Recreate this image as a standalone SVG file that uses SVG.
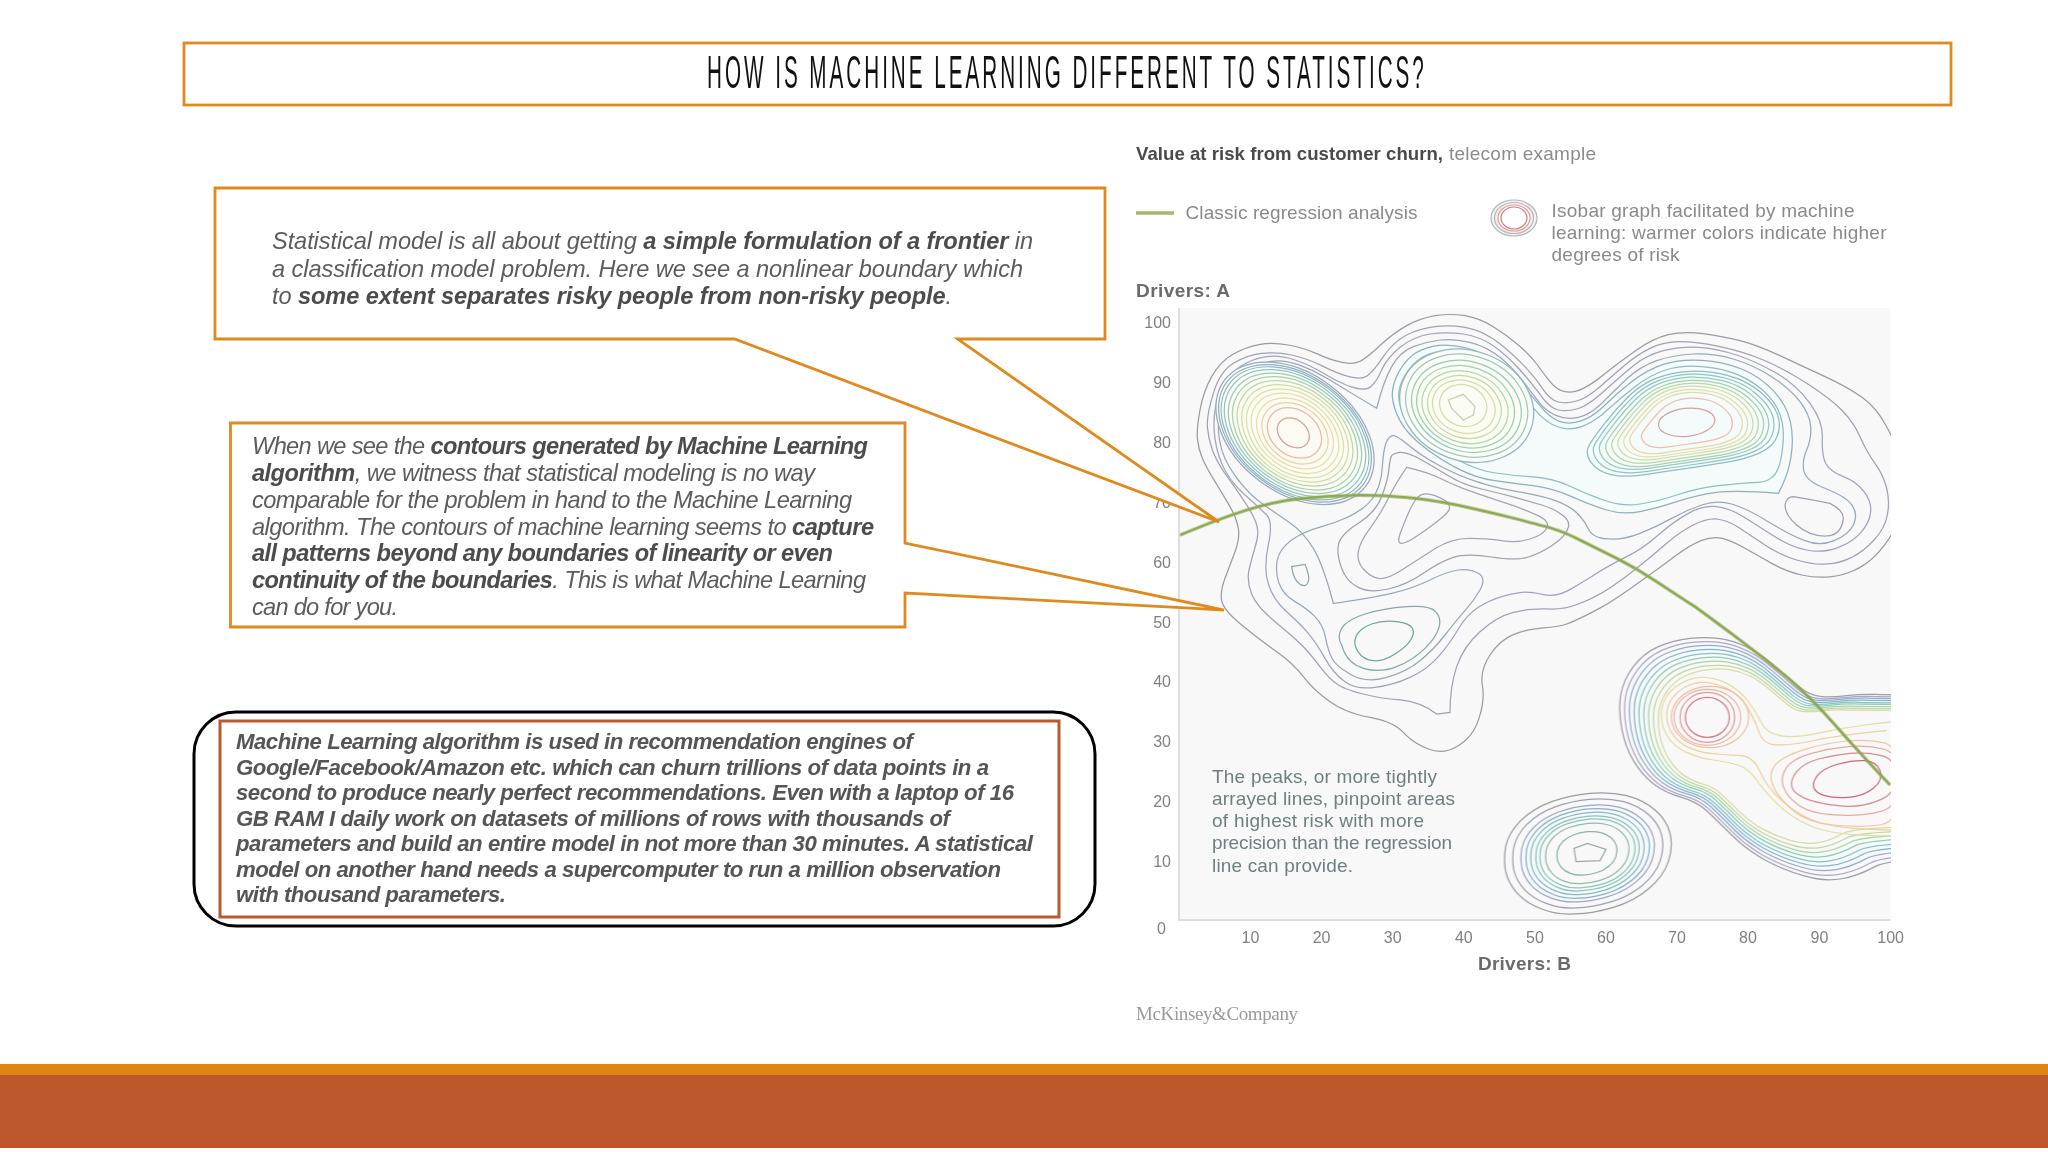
<svg xmlns="http://www.w3.org/2000/svg" width="2048" height="1152" viewBox="0 0 2048 1152">
<style>
text{font-family:"Liberation Sans",Arial,sans-serif}
.c,.e ellipse,.e path{vector-effect:non-scaling-stroke;stroke-width:1.25}
.box{fill:#fff;stroke:#e08a1e;stroke-width:2.8}
.t{font-size:23.6px;font-style:italic;fill:#5c5c5c}
.t tspan{font-weight:bold;fill:#4c4c4c}
.t3{font-size:22.2px;font-style:italic;font-weight:bold;fill:#555}
.tick{font-size:16px;fill:#808080}
.ax{font-size:19px;font-weight:bold;fill:#6a6a6a}
.leg{font-size:19px;fill:#8a8a8a}
.note{font-size:19px;fill:#6f7f80}
</style>
<defs>
<clipPath id="plotClip"><rect x="1179" y="308" width="711.5" height="612"/></clipPath>
<filter id="soft" x="1170" y="300" width="730" height="630" filterUnits="userSpaceOnUse"><feGaussianBlur stdDeviation="0.45"/></filter>
<path id="dumbbell" class="c" d="M1536,225 Q1172,225 1126,223 Q1080,222 1040,227 Q1000,232 965,230 Q930,228 895,199 Q860,170 820,135 Q780,100 740,81 Q700,62 660,56 Q620,50 570,55 Q520,60 475,80 Q430,100 400,140 Q370,180 362,225 Q355,270 365,325 Q375,380 402,425 Q430,470 465,495 Q500,520 545,532 Q590,545 620,572 Q650,600 695,645 Q740,690 795,720 Q850,750 910,767 Q970,785 1020,777 Q1070,770 1125,740 Q1180,710 1540,710 L1900,710 L1900,225 Z"/>
<path id="smallpeak" class="c" d="M17,755 Q10,720 17,680 Q25,640 62,602 Q100,565 155,545 Q210,525 270,520 Q330,515 380,527 Q430,540 465,570 Q500,600 510,640 Q520,680 505,725 Q490,770 445,807 Q400,845 340,862 Q280,880 225,882 Q170,885 125,867 Q80,850 52,820 Q25,790 17,755Z"/>
<path id="cblob" class="c" d="M1210,480 Q1190,450 1205,425 Q1220,400 1255,355 Q1290,310 1330,270 Q1370,230 1420,210 Q1470,190 1530,187 Q1590,185 1650,200 Q1710,215 1755,252 Q1800,290 1812,325 Q1825,360 1812,395 Q1800,430 1755,450 Q1710,470 1650,480 Q1590,490 1520,500 Q1450,510 1385,520 Q1320,530 1275,520 Q1230,510 1210,480Z"/>
</defs>
<rect width="2048" height="1152" fill="#fff"/>
<g id="chart">
<rect x="1179" y="308" width="711.5" height="612" fill="#f8f8f9"/>
<path d="M1179,308V920H1890.5" fill="none" stroke="#dedede" stroke-width="2"/>
<g clip-path="url(#plotClip)" filter="url(#soft)"><g transform="translate(1180 305) scale(.33333)" fill="none" class="e">
<path class="c" stroke="#9b9ba3" d="M52,400 Q50,370 60,315 Q70,260 95,215 Q120,170 160,147 Q200,125 240,118 Q280,112 325,120 Q370,128 410,146 Q450,165 487,172 Q525,180 547,165 Q570,150 605,117 Q640,85 680,62 Q720,40 765,32 Q810,25 855,32 Q900,40 940,65 Q980,90 1015,120 Q1050,150 1070,177 Q1090,205 1110,230 Q1130,255 1155,260 Q1180,265 1210,250 Q1240,235 1280,202 Q1320,170 1370,135 Q1420,100 1465,89 Q1510,78 1570,86 Q1630,95 1680,107 Q1730,120 1800,152 Q1870,185 1940,217 Q2010,250 2050,280 Q2090,310 2117,360 Q2145,410 2172,480 Q2200,550 2172,615 Q2145,680 2112,722 Q2080,765 2040,787 Q2000,810 1955,815 Q1910,820 1865,810 Q1820,800 1775,775 Q1730,750 1695,730 Q1660,710 1630,701 Q1600,693 1565,706 Q1530,720 1490,750 Q1450,780 1405,812 Q1360,845 1320,872 Q1280,900 1230,925 Q1180,950 1160,957 Q1140,965 1090,969 Q1040,973 1000,989 Q960,1005 930,1050 Q900,1095 907,1140 Q915,1185 897,1240 Q880,1295 835,1322 Q790,1350 745,1332 Q700,1315 670,1282 Q640,1250 570,1237 Q500,1225 450,1190 Q400,1155 370,1115 Q340,1075 290,1040 Q240,1005 185,960 Q130,915 125,887 Q120,860 135,820 Q150,780 165,740 Q180,700 175,670 Q170,640 150,605 Q130,570 105,530 Q80,490 67,460 Q55,430 52,400 Z"/>
<path class="c" stroke="#a3a0b2" d="M82,365 Q80,330 100,265 Q120,200 160,175 Q200,150 245,145 Q290,140 335,150 Q380,160 425,182 Q470,205 507,215 Q545,225 562,212 Q580,200 610,155 Q640,110 680,90 Q720,70 765,65 Q810,60 855,67 Q900,75 940,102 Q980,130 1020,170 Q1060,210 1085,247 Q1110,285 1135,291 Q1160,297 1190,288 Q1220,280 1260,245 Q1300,210 1335,180 Q1370,150 1410,130 Q1450,110 1500,110 Q1550,110 1620,125 Q1690,140 1750,165 Q1810,190 1880,235 Q1950,280 1985,315 Q2020,350 2040,395 Q2060,440 2085,475 Q2110,510 2120,550 Q2130,590 2122,630 Q2115,670 2082,705 Q2050,740 2015,757 Q1980,775 1940,777 Q1900,780 1850,765 Q1800,750 1755,720 Q1710,690 1675,667 Q1640,645 1610,642 Q1580,640 1540,660 Q1500,680 1460,715 Q1420,750 1370,790 Q1320,830 1280,855 Q1240,880 1195,897 Q1150,915 1100,912 Q1050,910 1000,922 Q950,935 900,980 Q850,1025 830,1085 Q810,1145 810,1222 L770,1227 Q720,1190 660,1185 Q600,1180 550,1167 Q500,1155 475,1140 Q450,1125 420,1085 Q390,1045 365,1020 Q340,995 285,950 Q230,905 215,867 Q200,830 207,795 Q215,760 227,720 Q240,680 227,650 Q215,620 187,580 Q160,540 135,505 Q110,470 97,435 Q85,400 82,365 Z"/>
<path class="c" stroke="#a0a4bc" d="M102,370 Q100,310 120,260 Q140,210 180,185 Q220,160 260,155 Q300,150 345,165 Q390,180 430,205 Q470,230 512,245 Q555,260 572,245 Q590,230 605,195 Q620,160 660,127 Q700,95 750,87 Q800,80 850,87 Q900,95 940,122 Q980,150 1020,195 Q1060,240 1085,275 Q1110,310 1135,315 Q1160,320 1190,312 Q1220,305 1270,260 Q1320,215 1360,182 Q1400,150 1450,137 Q1500,125 1555,127 Q1610,130 1670,150 Q1730,170 1790,205 Q1850,240 1890,295 Q1930,350 1927,400 Q1925,450 1937,475 Q1950,500 1990,515 Q2030,530 2052,560 Q2075,590 2072,620 Q2070,650 2045,680 Q2020,710 1975,727 Q1930,745 1880,735 Q1830,725 1780,692 Q1730,660 1690,635 Q1650,610 1610,605 Q1570,600 1525,625 Q1480,650 1435,690 Q1390,730 1340,755 Q1290,780 1255,802 Q1220,825 1175,851 Q1130,878 1090,869 Q1050,860 1025,862 Q1000,865 965,875 Q930,885 895,907 Q860,930 835,972 Q810,1015 775,1055 Q740,1095 690,1117 Q640,1140 585,1147 Q530,1155 495,1130 Q460,1105 435,1060 Q410,1015 385,985 Q360,955 320,920 Q280,885 265,837 Q250,790 265,720 Q280,650 260,630 Q240,610 195,570 Q150,530 127,480 Q105,430 102,370 Z"/>
<path class="c" stroke="#98a8b8" d="M115,365 Q115,330 135,282 Q155,235 195,205 Q235,175 272,169 Q310,163 355,179 Q400,195 445,222 Q490,250 590,310 Q610,230 635,185 Q660,140 700,125 Q740,110 780,105 Q820,100 870,112 Q920,125 960,157 Q1000,190 1030,230 Q1060,270 1080,295 Q1100,320 1130,332 Q1160,345 1195,337 Q1230,330 1265,295 Q1300,260 1340,222 Q1380,185 1430,167 Q1480,150 1540,147 Q1600,145 1660,162 Q1720,180 1775,215 Q1830,250 1860,290 Q1890,330 1892,365 Q1895,400 1880,435 Q1865,470 1872,500 Q1880,530 1940,552 Q2000,575 2017,602 Q2035,630 2020,660 Q2005,690 1962,707 Q1920,725 1875,707 Q1830,690 1765,650 Q1700,610 1655,597 Q1610,585 1565,600 Q1520,615 1475,640 Q1430,665 1380,685 Q1330,705 1285,702 Q1240,700 1227,675 Q1215,650 1197,630 Q1180,610 1140,592 Q1100,575 1025,562 Q950,550 890,530 Q830,510 775,480 Q720,450 685,420 Q650,390 637,392 Q625,395 617,417 Q610,440 607,485 Q605,530 587,565 Q570,600 525,625 Q480,650 425,665 Q370,680 335,705 Q300,730 292,765 Q285,800 297,835 Q310,870 345,890 Q380,910 405,935 Q430,960 437,1000 Q445,1040 457,1062 Q470,1085 515,1110 Q560,1135 620,1117 Q680,1100 720,1067 Q760,1035 795,990 Q830,945 855,917 Q880,890 900,855 Q920,820 895,805 Q870,790 835,795 Q800,800 750,825 Q700,850 635,865 Q570,880 460,895 Q430,780 400,730 Q370,680 325,650 Q280,620 245,595 Q210,570 175,525 Q140,480 127,440 Q115,400 115,365 Z"/>
<path class="c" fill="#f5fafa" stroke="#8fb0bc" d="M1795,565 Q1825,510 1833,455 Q1842,400 1831,350 Q1820,300 1780,257 Q1740,215 1685,192 Q1630,170 1565,166 Q1500,162 1450,178 Q1400,195 1355,230 Q1310,265 1275,300 Q1240,335 1205,347 Q1170,360 1140,350 Q1110,340 1080,302 Q1050,265 1017,232 Q985,200 945,170 Q905,140 860,129 Q815,118 777,121 Q740,125 710,142 Q680,160 657,200 Q635,240 637,275 Q640,310 660,347 Q680,385 727,422 Q775,460 832,490 Q890,520 945,527 Q1000,535 1060,542 Q1120,550 1175,575 Q1230,600 1280,615 Q1330,630 1380,620 Q1430,610 1490,590 Q1550,570 1610,562 Q1670,555 1795,565 Z"/>
<path class="c" stroke="#90bcc2" d="M1735,532 Q1790,530 1802,465 Q1815,400 1807,355 Q1800,310 1765,272 Q1730,235 1680,212 Q1630,190 1567,185 Q1505,180 1457,195 Q1410,210 1365,245 Q1320,280 1282,315 Q1245,350 1207,364 Q1170,378 1135,366 Q1100,355 1070,320 Q1040,285 1007,252 Q975,220 935,190 Q895,160 855,149 Q815,138 782,140 Q750,142 722,160 Q695,178 675,211 Q655,245 656,275 Q658,305 676,338 Q695,372 740,406 Q785,440 840,468 Q895,497 947,504 Q1000,512 1060,516 Q1120,520 1175,546 Q1230,572 1280,588 Q1330,605 1380,597 Q1430,590 1490,570 Q1550,550 1615,542 Q1680,535 1735,532 Z"/>
<path class="c" stroke="#a4a4b4" d="M680,487 Q740,500 785,522 Q830,545 890,565 Q950,585 1000,602 Q1050,620 1080,635 Q1110,650 1100,670 Q1090,690 1050,702 Q1010,715 965,707 Q920,700 867,700 Q815,700 767,730 Q720,760 670,792 Q620,825 595,820 Q570,815 550,792 Q530,770 535,740 Q540,710 570,670 Q600,630 625,580 Q650,530 680,487Z"/>
<path class="c" stroke="#a0a0ac" d="M635,452 Q640,445 660,442 Q680,440 720,462 Q760,485 805,512 Q850,540 905,552 Q960,565 1005,577 Q1050,590 1085,600 Q1120,610 1147,630 Q1175,650 1162,675 Q1150,700 1115,722 Q1080,745 1045,756 Q1010,768 935,756 Q860,745 820,757 Q780,770 730,805 Q680,840 625,852 Q570,865 535,847 Q500,830 485,790 Q470,750 475,720 Q480,690 535,655 Q590,620 607,570 Q625,520 627,490 Q630,460 635,452Z"/>
<path class="c" stroke="#a4a4b4" d="M665,715 Q680,715 720,687 Q760,660 787,637 Q815,615 807,600 Q800,585 765,572 Q730,560 715,575 Q700,590 685,625 Q670,660 660,687 Q650,715 665,715Z"/>
<path class="c" stroke="#86a8a8" d="M485,1020 Q470,995 485,970 Q500,945 555,927 Q610,910 680,905 Q750,900 767,920 Q785,940 777,967 Q770,995 735,1030 Q700,1065 650,1085 Q600,1105 550,1090 Q500,1075 485,1020Z"/>
<path class="c" stroke="#6fa898" d="M529,992 Q540,970 575,957 Q610,945 650,950 Q690,955 697,970 Q705,985 692,1005 Q680,1025 645,1047 Q610,1070 580,1067 Q550,1065 534,1040 Q518,1015 529,992Z"/>
<path class="c" stroke="#90a8a8" d="M335,785L375,778Q390,815 385,830Q380,848 360,838Q340,825 335,785Z"/>
<path class="c" stroke="#9aa0ac" d="M1815,600Q1820,575 1840,575Q1900,585 1950,595Q1990,615 1990,640Q1985,690 1940,693Q1890,695 1850,660Q1815,630 1815,600Z"/>

<g fill="#fbfbf3" transform="rotate(37 345 385)">
<ellipse cx="345" cy="385" rx="265" ry="178" stroke="#98a8c0"/>
<g fill="none">
<ellipse cx="345" cy="385" rx="256" ry="172" stroke="#90b0c4"/>
<ellipse cx="345" cy="385" rx="247" ry="167" stroke="#8cb8c4"/>
<ellipse cx="345" cy="385" rx="236" ry="160" stroke="#90c4c8"/>
<ellipse cx="345" cy="385" rx="222" ry="152" stroke="#98ccc0"/>
<ellipse cx="345" cy="385" rx="208" ry="144" stroke="#a8d0b4"/>
<ellipse cx="345" cy="385" rx="192" ry="135" stroke="#bcd6ac"/>
<ellipse cx="345" cy="385" rx="176" ry="126" stroke="#d0dca8"/>
<ellipse cx="345" cy="385" rx="160" ry="116" stroke="#dcdea8"/>
<ellipse cx="345" cy="385" rx="144" ry="105" stroke="#e3dfa8"/>
<ellipse cx="345" cy="385" rx="126" ry="94" stroke="#e8dcaa"/>
<ellipse cx="345" cy="385" rx="108" ry="82" stroke="#ecd0a8"/>
<ellipse cx="343" cy="385" rx="88" ry="68" stroke="#ecb8a8"/>
<ellipse cx="340" cy="387" rx="52" ry="40" stroke="#d8a0a0"/>
</g></g>

<g fill="#fbfcf4" transform="rotate(20 860 302)">
<ellipse cx="860" cy="302" rx="205" ry="165" stroke="#90b8c4"/>
<g fill="none">
<ellipse cx="860" cy="302" rx="187" ry="150" stroke="#9cc8c8"/>
<ellipse cx="860" cy="304" rx="168" ry="134" stroke="#98ccc0"/>
<ellipse cx="858" cy="306" rx="150" ry="120" stroke="#a0d0b8"/>
<ellipse cx="857" cy="308" rx="132" ry="106" stroke="#b4d4b0"/>
<ellipse cx="855" cy="308" rx="113" ry="92" stroke="#c4d8a8"/>
<ellipse cx="853" cy="308" rx="96" ry="78" stroke="#d4dca8"/>
<ellipse cx="850" cy="305" rx="72" ry="62" stroke="#d8dcac"/>
</g></g>
<path class="c" stroke="#c8ccb0" d="M805,285L850,268L885,305L880,330L850,345L815,310Z"/>

<g fill="none">
<use href="#cblob" stroke="#90bcc4" transform="matrix(.93 0 0 .93 107 25)"/>
<use href="#cblob" stroke="#90c4c4" transform="matrix(.875 0 0 .875 191 44)"/>
<use href="#cblob" stroke="#98ccbc" transform="matrix(.82 0 0 .82 275 63)"/>
<use href="#cblob" stroke="#a8d0b0" transform="matrix(.765 0 0 .765 360 83)"/>
<use href="#cblob" stroke="#bcd6a8" transform="matrix(.71 0 0 .71 444 102)"/>
<use href="#cblob" stroke="#d0dca8" transform="matrix(.655 0 0 .655 528 121)"/>
<use href="#cblob" stroke="#e0dea8" transform="matrix(.6 0 0 .6 612 141)"/>
<use href="#cblob" stroke="#e8d8a8" transform="matrix(.545 0 0 .545 696 160)"/>
<use href="#cblob" stroke="#ecc0a8" transform="matrix(.44 0 0 .44 857 197)"/>
<ellipse cx="1520" cy="352" rx="85" ry="42" stroke="#d8a0a0" transform="rotate(-6 1520 352)"/>
</g>

<g transform="translate(960 945)" fill="none">
<use href="#dumbbell" stroke="#9d9da6"/>
<use href="#dumbbell" stroke="#aca8c4" transform="matrix(.965 0 0 .965 27 14)"/>
<use href="#dumbbell" stroke="#93acd0" transform="matrix(.93 0 0 .93 54 27)"/>
<use href="#dumbbell" stroke="#84b4cc" transform="matrix(.895 0 0 .895 81 41)"/>
<use href="#dumbbell" stroke="#84c4c8" transform="matrix(.86 0 0 .86 108 55)"/>
<use href="#dumbbell" stroke="#90ccb8" transform="matrix(.825 0 0 .825 135 68)"/>
<use href="#dumbbell" stroke="#a8d4a8" transform="matrix(.79 0 0 .79 162 82)"/>
<use href="#dumbbell" stroke="#c0d8a0" transform="matrix(.755 0 0 .755 189 96)"/>
<use href="#dumbbell" stroke="#d4dca0" transform="matrix(.72 0 0 .72 216 109)"/>
<path class="c" stroke="#e4dca0" d="M1236,302 Q1172,305 1096,315 Q1020,325 950,340 Q880,355 840,347 Q800,340 785,310 Q770,280 745,245 Q720,210 680,190 Q640,170 600,172 Q560,175 525,202 Q490,230 485,270 Q480,310 500,345 Q520,380 560,397 Q600,415 640,420 Q680,425 712,435 Q745,445 767,477 Q790,510 830,550 Q870,590 925,615 Q980,640 1076,645 Q1172,650 1300,650"/>
<path class="c" stroke="#ecd0a0" d="M1160,332 Q1020,345 950,360 Q880,375 835,375 Q790,375 777,337 Q765,300 742,262 Q720,225 680,205 Q640,185 602,187 Q565,190 535,215 Q505,240 501,275 Q497,310 516,340 Q535,370 572,385 Q610,400 650,402 Q690,405 725,407 Q760,410 780,455 Q800,500 840,537 Q880,575 930,597 Q980,620 1076,626 Q1172,632 1300,630"/>
<ellipse cx="630" cy="291" rx="116" ry="92" stroke="#ecc0a4"/>
<ellipse cx="622" cy="292" rx="100" ry="84" stroke="#ecb4a4"/>
<ellipse cx="622" cy="292" rx="82" ry="75" stroke="#e09a9c"/>
<ellipse cx="622" cy="292" rx="66" ry="60" stroke="#d4788a"/>
<path class="c" stroke="#ecc8a0" transform="translate(0 8)" d="M817,485 Q805,450 827,425 Q850,400 915,380 Q980,360 1040,355 Q1100,350 1150,360 Q1200,370 1200,485 Q1200,600 1140,607 Q1080,615 1000,607 Q920,600 875,560 Q830,520 817,485Z"/>
<path class="c" stroke="#e8a8a0" d="M850,500 Q840,470 860,442 Q880,415 935,400 Q990,385 1045,380 Q1100,375 1150,387 Q1200,400 1200,480 Q1200,560 1140,575 Q1080,590 1005,585 Q930,580 895,555 Q860,530 850,500Z"/>
<path class="c" stroke="#d88a90" d="M875,500 Q870,480 890,455 Q910,430 955,417 Q1000,405 1050,400 Q1100,395 1145,407 Q1190,420 1190,470 Q1190,520 1135,542 Q1080,565 1015,557 Q950,550 915,535 Q880,520 875,500Z"/>
<path class="c" stroke="#c8687c" d="M942,505 Q935,490 952,467 Q970,445 1015,432 Q1060,420 1095,422 Q1130,425 1140,452 Q1150,480 1120,505 Q1090,530 1045,532 Q1000,535 975,527 Q950,520 942,505Z"/>
<use href="#smallpeak" stroke="#9a9aa2"/>
<use href="#smallpeak" stroke="#9f9fb0" transform="matrix(.9 0 0 .9 26 70)"/>
<use href="#smallpeak" stroke="#9aa8c4" transform="matrix(.8 0 0 .8 52 140)"/>
<use href="#smallpeak" stroke="#88b0c8" transform="matrix(.74 0 0 .74 68 182)"/>
<use href="#smallpeak" stroke="#84bcc4" transform="matrix(.68 0 0 .68 83 224)"/>
<use href="#smallpeak" stroke="#88c4c0" transform="matrix(.62 0 0 .62 99 266)"/>
<use href="#smallpeak" stroke="#8cc4b8" transform="matrix(.57 0 0 .57 112 301)"/>
<use href="#smallpeak" stroke="#90bcac" transform="matrix(.5 0 0 .5 130 350)"/>
<use href="#smallpeak" stroke="#90b0a0" transform="matrix(.36 0 0 .36 166 448)"/>
<path class="c" stroke="#a0a89c" d="M222,685L262,670L318,688L300,722L228,725Z"/>
</g>
<path style="stroke-width:3" d="M0,690 Q120,640 200,615 Q280,590 360,581 Q440,572 520,571 Q600,570 680,577 Q760,585 830,600 Q900,615 990,637 Q1080,660 1115,670 Q1150,680 1200,705 Q1250,730 1310,760 Q1370,790 1430,830 Q1490,870 1545,905 Q1600,945 1680,1005 Q1760,1065 1825,1120 Q1890,1175 1965,1260 Q2040,1345 2130,1440" fill="none" stroke="#8fa852"/>
</g></g>
<g class="tick" text-anchor="end">
<text x="1171" y="328">100</text><text x="1171" y="388">90</text><text x="1171" y="448">80</text><text x="1171" y="508">70</text><text x="1171" y="568">60</text><text x="1171" y="628">50</text><text x="1171" y="687">40</text><text x="1171" y="747">30</text><text x="1171" y="807">20</text><text x="1171" y="867">10</text><text x="1166" y="934">0</text>
</g>
<g class="tick" text-anchor="middle">
<text x="1250.5" y="943">10</text><text x="1321.6" y="943">20</text><text x="1392.7" y="943">30</text><text x="1463.8" y="943">40</text><text x="1535" y="943">50</text><text x="1606" y="943">60</text><text x="1677" y="943">70</text><text x="1748" y="943">80</text><text x="1819.5" y="943">90</text><text x="1890.6" y="943">100</text>
</g>
<text class="ax" x="1136" y="297" textLength="94">Drivers: A</text>
<text class="ax" x="1478" y="970" textLength="93">Drivers: B</text>
<text x="1136" y="160" font-size="18.6" font-weight="bold" fill="#4a4a4a" textLength="307">Value at risk from customer churn,</text>
<text x="1449" y="160" font-size="19" fill="#8c8c8c" textLength="147">telecom example</text>
<path d="M1136,213H1174" stroke="#a7b56f" stroke-width="3.5"/>
<text class="leg" x="1185.5" y="219" textLength="232">Classic regression analysis</text>
<ellipse cx="1514" cy="218" rx="23" ry="18" fill="#f2f2f2" stroke="#b4b4b4" stroke-width="1.2"/>
<ellipse cx="1514" cy="218" rx="19.5" ry="15.5" fill="#f6eeee" stroke="#b8b8b8" stroke-width="1.2"/>
<ellipse cx="1514" cy="218" rx="16" ry="13" fill="#fff" stroke="#d8a0a0" stroke-width="1.2"/>
<ellipse cx="1514" cy="218" rx="13" ry="11" fill="#fff" stroke="#cf7b80" stroke-width="1.2"/>
<text class="leg" x="1551.5" y="217" textLength="303">Isobar graph facilitated by machine</text>
<text class="leg" x="1551.5" y="239" textLength="335">learning: warmer colors indicate higher</text>
<text class="leg" x="1551.5" y="261" textLength="128">degrees of risk</text>
<text class="note" x="1212" y="783" textLength="225">The peaks, or more tightly</text>
<text class="note" x="1212" y="805" textLength="243">arrayed lines, pinpoint areas</text>
<text class="note" x="1212" y="827" textLength="212">of highest risk with more</text>
<text class="note" x="1212" y="849" textLength="240">precision than the regression</text>
<text class="note" x="1212" y="872" textLength="141">line can provide.</text>
<text x="1136" y="1020" style="font-family:'Liberation Serif',serif" font-size="19" fill="#9a9a9a" textLength="162">McKinsey&amp;Company</text>
</g>
<g id="callout-statistical">
<path class="box" d="M215,188H1105V339H957.5L1219,522L734.5,339H215Z"/>
<text class="t" x="272" y="249" textLength="761">Statistical model is all about getting <tspan>a simple formulation of a frontier</tspan> in</text>
<text class="t" x="272" y="277" textLength="751">a classification model problem. Here we see a nonlinear boundary which</text>
<text class="t" x="272" y="304" textLength="680">to <tspan>some extent separates risky people from non-risky people</tspan>.</text>
</g>
<g id="callout-contours">
<path class="box" d="M230.5,423H905V543L1224,610L905,593V627H230.5Z"/>
<text class="t" x="252" y="454" textLength="616">When we see the <tspan>contours generated by Machine Learning</tspan></text>
<text class="t" x="252" y="481" textLength="563"><tspan>algorithm</tspan>, we witness that statistical modeling is no way</text>
<text class="t" x="252" y="508" textLength="600">comparable for the problem in hand to the Machine Learning</text>
<text class="t" x="252" y="535" textLength="622">algorithm. The contours of machine learning seems to <tspan>capture</tspan></text>
<text class="t" x="252" y="561" textLength="581"><tspan>all patterns beyond any boundaries of linearity or even</tspan></text>
<text class="t" x="252" y="588" textLength="614"><tspan>continuity of the boundaries</tspan>. This is what Machine Learning</text>
<text class="t" x="252" y="615" textLength="146">can do for you.</text>
</g>
<g id="note-recommendation">
<rect x="194" y="712" width="901" height="214" rx="42" fill="#fff" stroke="#000" stroke-width="3"/>
<rect x="220" y="721" width="839" height="196" fill="#fff" stroke="#b85a2e" stroke-width="3"/>
<text class="t3" x="236" y="749" textLength="677">Machine Learning algorithm is used in recommendation engines of</text>
<text class="t3" x="236" y="775" textLength="753">Google/Facebook/Amazon etc. which can churn trillions of data points in a</text>
<text class="t3" x="236" y="800" textLength="778">second to produce nearly perfect recommendations. Even with a laptop of 16</text>
<text class="t3" x="236" y="826" textLength="714">GB RAM I daily work on datasets of millions of rows with thousands of</text>
<text class="t3" x="236" y="851" textLength="797">parameters and build an entire model in not more than 30 minutes. A statistical</text>
<text class="t3" x="236" y="877" textLength="765">model on another hand needs a supercomputer to run a million observation</text>
<text class="t3" x="236" y="902" textLength="270">with thousand parameters.</text>
</g>
<g id="title">
<rect x="184" y="43" width="1767" height="62" fill="#fff" stroke="#e08a1e" stroke-width="2.8"/>
<text transform="translate(707 88) scale(.45 1)" font-size="46" fill="#111" textLength="1593">HOW IS MACHINE LEARNING DIFFERENT TO STATISTICS?</text>
</g>
<g id="footer">
<rect x="0" y="1064" width="2048" height="11" fill="#e08412"/>
<rect x="0" y="1075" width="2048" height="73" fill="#bd582c"/>
</g>
</svg>
